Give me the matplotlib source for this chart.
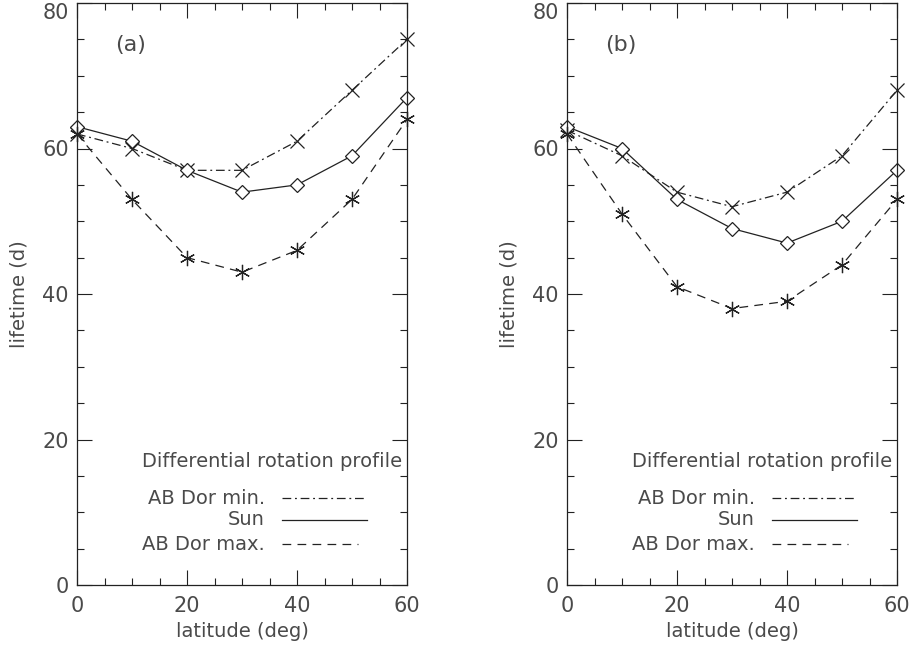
import numpy as np
import matplotlib
matplotlib.use("Agg")
import matplotlib.pyplot as plt
from matplotlib.ticker import MultipleLocator

latitude = [0, 10, 20, 30, 40, 50, 60]

# panel (a)
a_min = [62, 60, 57, 57, 61, 68, 75]
a_sun = [63, 61, 57, 54, 55, 59, 67]
a_max = [62, 53, 45, 43, 46, 53, 64]

# panel (b)
b_min = [62.5, 59, 54, 52, 54, 59, 68]
b_sun = [63, 60, 53, 49, 47, 50, 57]
b_max = [62, 51, 41, 38, 39, 44, 53]

panel_tags = ["(a)", "(b)"]
legend_labels = ["AB Dor min.", "Sun", "AB Dor max."]

plt.rcParams['font.family'] = ['DejaVu Sans']
txt = '#4a4a4a'
ink = '#222222'
fs = 14

fig = plt.figure(figsize=(9.09, 6.5), dpi=100)
W, H = 909, 650
boxes = [(77, 3, 330, 582), (567, 3, 330, 582)]
panels = [(a_min, a_sun, a_max), (b_min, b_sun, b_max)]

asterisk = (6, 2, 0)
styles = [
    dict(ls=(0, (7, 3, 1.5, 3)), marker='x', ms=10, mew=0.9),
    dict(ls='-', marker='D', ms=7, mfc='white', mew=0.9),
    dict(ls=(0, (7, 5)), marker=asterisk, ms=11, mew=0.9),
]

axes = []
for (x0, y0, w, h), series, tag in zip(boxes, panels, panel_tags):
    ax = fig.add_axes([x0 / W, 1 - (y0 + h) / H, w / W, h / H])
    axes.append(ax)
    for vals, st in zip(series, styles):
        ax.plot(latitude, vals, color=ink, lw=0.9, clip_on=False, **st)
    ax.set_xlim(0, 60)
    ax.set_ylim(0, 80)
    ax.set_xticks([0, 20, 40, 60])
    ax.set_yticks([0, 20, 40, 60, 80])
    ax.xaxis.set_minor_locator(MultipleLocator(5))
    ax.yaxis.set_minor_locator(MultipleLocator(5))
    ax.tick_params(which='both', direction='in', top=True, right=True,
                   color=ink, labelcolor=txt, labelsize=fs + 1)
    ax.tick_params(axis='x', pad=8)
    ax.tick_params(axis='y', pad=6)
    ax.tick_params(which='major', length=11, width=0.8)
    ax.tick_params(which='minor', length=5, width=0.8)
    for sp in ax.spines.values():
        sp.set_color(ink)
        sp.set_linewidth(0.9)
    ax.set_xlabel('latitude (deg)', fontsize=fs, color=txt, labelpad=4)
    ax.set_ylabel('lifetime (d)', fontsize=fs, color=txt, labelpad=10)
    ax.text(0.115, 0.928, tag, transform=ax.transAxes, fontsize=fs + 2,
            color=txt, ha='left', va='center')

    # legend drawn as in the original
    ax.text(0.985, 0.213, 'Differential rotation profile', transform=ax.transAxes,
            fontsize=fs, color=txt, ha='right', va='center')
    ys = [0.149, 0.112, 0.07]
    ends = [0.88, 0.88, 0.85]
    for lab, st, yy, xe in zip(legend_labels, styles, ys, ends):
        ax.text(0.57, yy, lab, transform=ax.transAxes, fontsize=fs, color=txt,
                ha='right', va='center')
        ax.plot([0.62, xe], [yy, yy], transform=ax.transAxes, color=ink,
                lw=0.9, ls=st['ls'])

# keep the top y label inside the frame like the original
fig.canvas.draw()
for ax in axes:
    for tick in ax.yaxis.get_major_ticks():
        if tick.label1.get_text() == '80':
            tick.label1.set_verticalalignment('top')

fig.savefig('out.png', dpi=100)
